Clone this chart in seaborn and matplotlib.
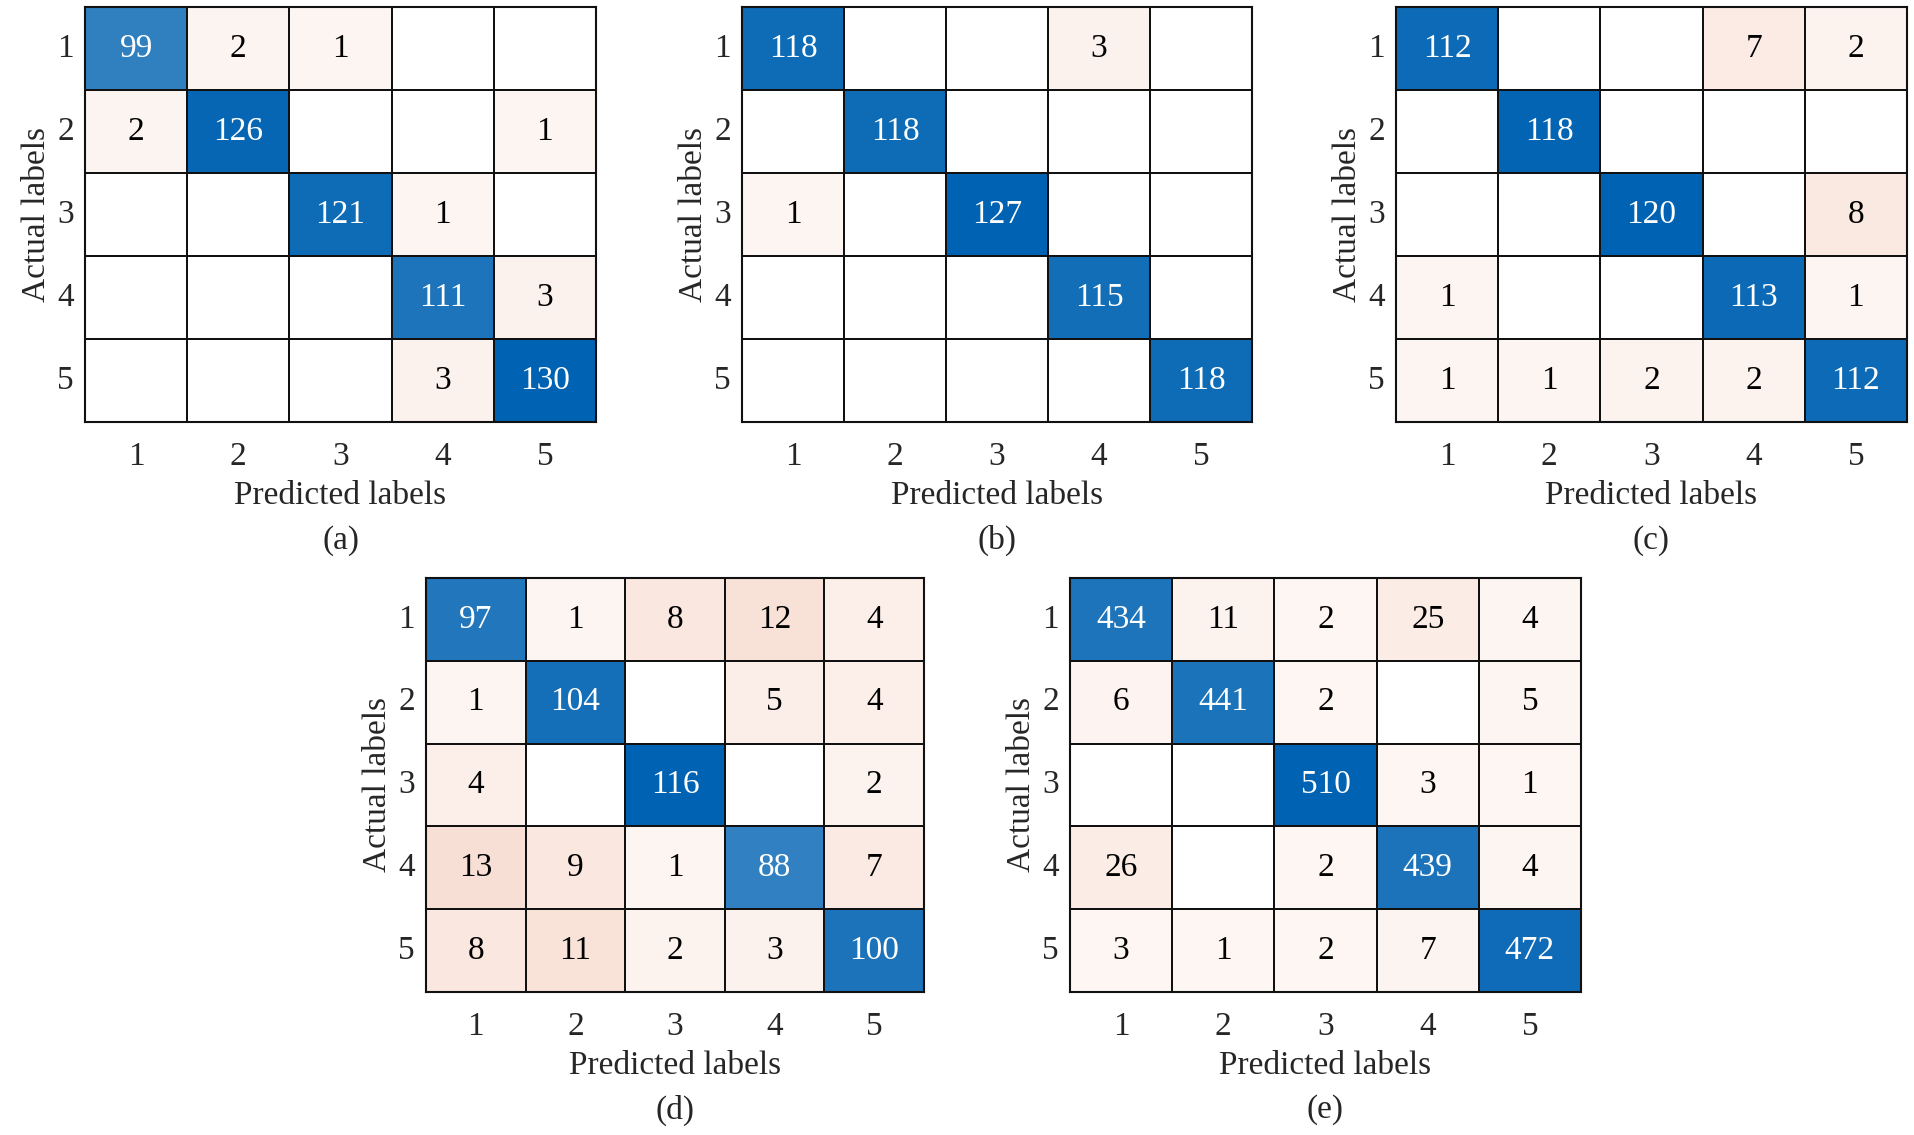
import numpy as np
import seaborn as sns
from matplotlib import pyplot as plt
from matplotlib.colors import LinearSegmentedColormap, ListedColormap

# confusion matrices, rows = actual, cols = predicted
cm_a = [[99, 2, 1, 0, 0],
        [2, 126, 0, 0, 1],
        [0, 0, 121, 1, 0],
        [0, 0, 0, 111, 3],
        [0, 0, 0, 3, 130]]
cm_b = [[118, 0, 0, 3, 0],
        [0, 118, 0, 0, 0],
        [1, 0, 127, 0, 0],
        [0, 0, 0, 115, 0],
        [0, 0, 0, 0, 118]]
cm_c = [[112, 0, 0, 7, 2],
        [0, 118, 0, 0, 0],
        [0, 0, 120, 0, 8],
        [1, 0, 0, 113, 1],
        [1, 1, 2, 2, 112]]
cm_d = [[97, 1, 8, 12, 4],
        [1, 104, 0, 5, 4],
        [4, 0, 116, 0, 2],
        [13, 9, 1, 88, 7],
        [8, 11, 2, 3, 100]]
cm_e = [[434, 11, 2, 25, 4],
        [6, 441, 2, 0, 5],
        [0, 0, 510, 3, 1],
        [26, 0, 2, 439, 4],
        [3, 1, 2, 7, 472]]
class_labels = ["1", "2", "3", "4", "5"]
panel_names = ["(a)", "(b)", "(c)", "(d)", "(e)"]

sns.set_theme(style="white")
plt.rcParams["font.family"] = ["Liberation Serif", "DejaVu Serif"]

diag_cmap = LinearSegmentedColormap.from_list("diag", ["#ffffff", "#0062b2"])
off_cmap = LinearSegmentedColormap.from_list("off", ["#ffffff", "#d95319"])
white_cmap = ListedColormap(["#ffffff"])

fig = plt.figure(figsize=(19.15, 11.35), dpi=100)
W, H = 1915, 1135
# axes boxes in pixels: left, top, width, height
boxes = [(85, 7, 511, 415), (742, 7, 510, 415), (1396, 7, 511, 415),
         (426, 578, 498, 414), (1070, 578, 511, 414)]

fs = 24
for cm, name, (l, t, w, h) in zip([cm_a, cm_b, cm_c, cm_d, cm_e], panel_names, boxes):
    ax = fig.add_axes([l / W, 1 - (t + h) / H, w / W, h / H])
    m = np.array(cm)
    M = m.max()
    eye = np.eye(5, dtype=bool)
    lw = 1.3
    lc = "#111111"
    # base grid of white cells
    sns.heatmap(np.zeros_like(m), cmap=white_cmap, cbar=False, linewidths=lw,
                linecolor=lc, ax=ax, xticklabels=class_labels, yticklabels=class_labels)
    # off-diagonal cells
    sns.heatmap(m, mask=eye | (m == 0), cmap=off_cmap, vmin=-0.042 * M, vmax=0.79 * M,
                cbar=False, linewidths=lw, linecolor=lc, annot=True, fmt="d",
                annot_kws={"color": "black", "fontsize": fs}, ax=ax,
                xticklabels=class_labels, yticklabels=class_labels)
    # diagonal cells
    sns.heatmap(m, mask=~eye, cmap=diag_cmap, vmin=-0.25 * M, vmax=M,
                cbar=False, linewidths=lw, linecolor=lc, annot=True, fmt="d",
                annot_kws={"color": "white", "fontsize": fs}, ax=ax,
                xticklabels=class_labels, yticklabels=class_labels)
    for s in ax.spines.values():
        s.set_visible(True)
        s.set_color(lc)
        s.set_linewidth(1.5)
    ax.tick_params(length=0, labelsize=fs)
    ax.tick_params(axis="x", pad=14)
    ax.tick_params(axis="y", pad=8)
    ax.set_yticklabels(class_labels, rotation=0)
    ax.set_xlabel("Predicted labels", fontsize=fs, labelpad=6)
    ax.set_ylabel("Actual labels", fontsize=fs, labelpad=4)
    ax.text(0.5, -0.285, name, transform=ax.transAxes, ha="center", va="center",
            fontsize=fs)

plt.savefig("out.png", dpi=100)
